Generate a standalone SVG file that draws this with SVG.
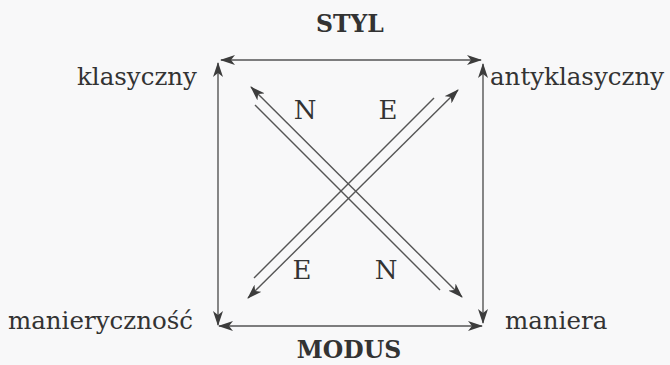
<svg xmlns="http://www.w3.org/2000/svg" width="670" height="365" viewBox="0 0 670 365">
<defs>
<marker id="ah" viewBox="0 0 15 10" refX="14" refY="5" markerWidth="15" markerHeight="10" markerUnits="userSpaceOnUse" orient="auto-start-reverse">
<path d="M0,0 L15,5 L0,10 L4,5 z" fill="#3c3c3c"/>
</marker>
</defs>
<style>
.lbl{font-family:"DejaVu Serif","Liberation Serif",serif;font-size:24.5px;fill:#333}
.ne{font-family:"DejaVu Serif","Liberation Serif",serif;font-size:26px;fill:#333}
.ttl{font-family:"DejaVu Serif","Liberation Serif",serif;font-size:23.5px;font-weight:bold;fill:#333}
.ln{stroke:#555;stroke-width:1.4;fill:none}
.arr{marker-start:url(#ah);marker-end:url(#ah)}
</style>
<rect width="670" height="365" fill="#f8f8f9"/>
<g id="connectors">
<line class="ln arr" x1="221" y1="60" x2="481" y2="60"/>
<line class="ln arr" x1="219" y1="326" x2="482" y2="326"/>
<line class="ln arr" x1="218" y1="63" x2="218" y2="325"/>
<line class="ln arr" x1="483" y1="64" x2="483" y2="323"/>
<line class="ln arr" x1="251" y1="87" x2="462" y2="297"/>
<line class="ln" x1="255" y1="105" x2="440" y2="290"/>
<line class="ln arr" x1="458" y1="90" x2="248" y2="298"/>
<line class="ln" x1="434" y1="98" x2="254" y2="278"/>
</g>
<g id="styl"><text class="ttl" x="350" y="32" text-anchor="middle">STYL</text></g>
<g id="modus"><text class="ttl" x="349" y="358" text-anchor="middle">MODUS</text></g>
<g id="klasyczny"><text class="lbl" x="77" y="85">klasyczny</text></g>
<g id="antyklasyczny"><text class="lbl" x="490" y="85">antyklasyczny</text></g>
<g id="manierycznosc"><text class="lbl" x="8" y="329">manieryczność</text></g>
<g id="maniera"><text class="lbl" x="505" y="329">maniera</text></g>
<g id="labels">
<text class="ne" x="305" y="119" text-anchor="middle">N</text>
<text class="ne" x="388" y="119" text-anchor="middle">E</text>
<text class="ne" x="302" y="279" text-anchor="middle">E</text>
<text class="ne" x="386" y="279" text-anchor="middle">N</text>
</g>
</svg>
